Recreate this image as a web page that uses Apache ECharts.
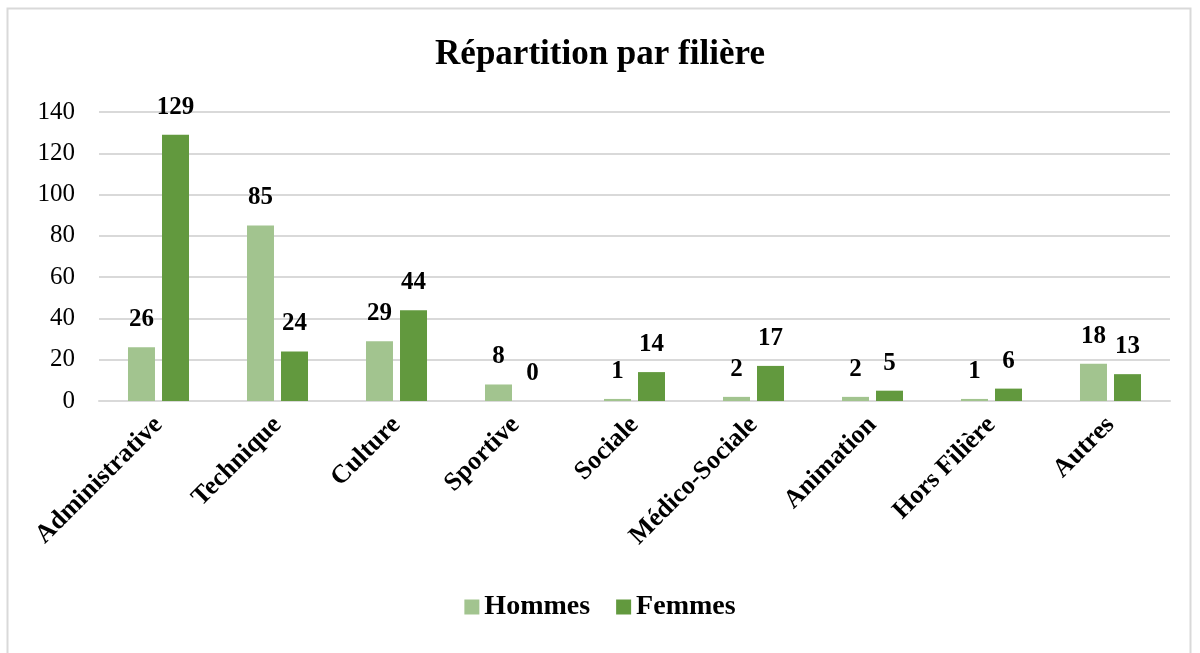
<!DOCTYPE html>
<html>
<head>
<meta charset="utf-8">
<script src="https://cdn.jsdelivr.net/npm/echarts@6/dist/echarts.min.js"></script>
<style>
  html, body { margin: 0; padding: 0; background: #fff; }
  #chart { width: 1200px; height: 653px; }
</style>
</head>
<body>
<div id="chart"></div>
<script>
const categories = ['Administrative', 'Technique', 'Culture', 'Sportive', 'Sociale', 'Médico-Sociale', 'Animation', 'Hors Filière', 'Autres'];
const hommes = [26, 85, 29, 8, 1, 2, 2, 1, 18];
const femmes = [129, 24, 44, 0, 14, 17, 5, 6, 13];
const yTicks = [0, 20, 40, 60, 80, 100, 120, 140];

const serif = '"Liberation Serif", "DejaVu Serif", serif';

let myChart = echarts.init(document.getElementById('chart'));

const labelStyle = {
    show: true,
    position: 'top',
    distance: 15,
    fontFamily: serif,
    fontWeight: 'bold',
    fontSize: 25,
    color: '#000'
};

myChart.setOption({
    animation: false,
    graphic: [{
        type: 'rect',
        shape: { x: 7.5, y: 8.5, width: 1183, height: 700 },
        style: { fill: 'none', stroke: '#d9d9d9', lineWidth: 2 },
        silent: true
    }],
    title: {
        text: 'Répartition par filière',
        left: 'center',
        top: 32,
        textStyle: { fontFamily: serif, fontWeight: 'bold', fontSize: 35, color: '#000' }
    },
    legend: {
        bottom: 27,
        left: 'center',
        itemWidth: 15,
        itemHeight: 15,
        itemGap: 26,
        icon: 'rect',
        textStyle: { fontFamily: serif, fontWeight: 'bold', fontSize: 28, color: '#000' },
        data: ['Hommes', 'Femmes']
    },
    grid: { left: 99, right: 30, top: 112, bottom: 252 },
    xAxis: {
        type: 'category',
        data: categories,
        axisLine: { lineStyle: { color: '#d9d9d9', width: 2 } },
        axisTick: { show: false },
        axisLabel: {
            rotate: 45,
            margin: 20,
            interval: 0,
            fontFamily: serif,
            fontWeight: 'bold',
            fontSize: 26,
            color: '#000'
        }
    },
    yAxis: {
        type: 'value',
        min: yTicks[0],
        max: yTicks[yTicks.length - 1],
        interval: 20,
        axisLine: { show: false },
        axisTick: { show: false },
        splitLine: { lineStyle: { color: '#d9d9d9', width: 2 } },
        axisLabel: { margin: 24, fontFamily: serif, fontSize: 25, color: '#000' }
    },
    series: [
        {
            name: 'Hommes',
            type: 'bar',
            data: hommes,
            barWidth: 27,
            barGap: '26%',
            itemStyle: { color: '#a2c48f' },
            label: labelStyle
        },
        {
            name: 'Femmes',
            type: 'bar',
            data: femmes,
            barWidth: 27,
            barGap: '26%',
            itemStyle: { color: '#62993e' },
            label: labelStyle
        }
    ]
});
</script>
</body>
</html>
